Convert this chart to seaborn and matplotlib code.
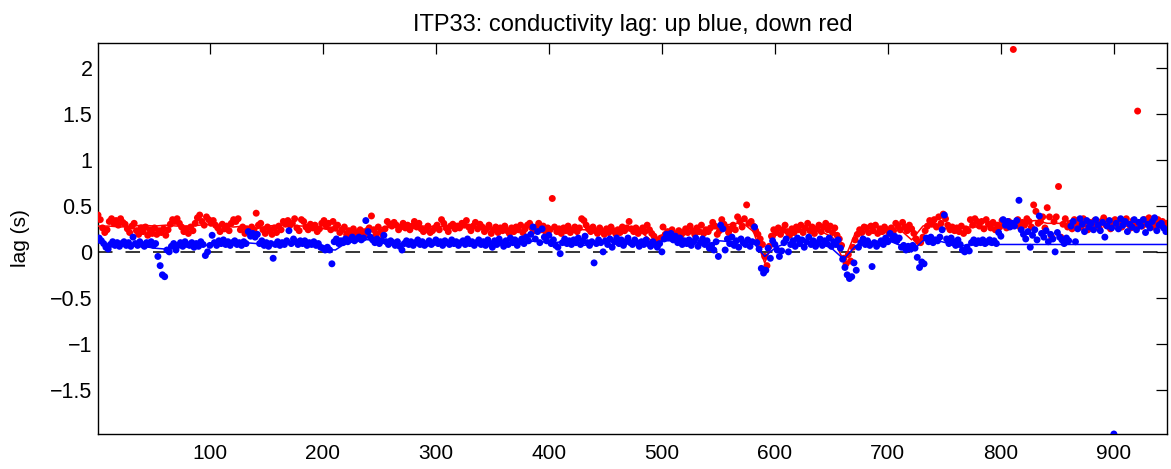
import numpy as np
import pandas as pd
import matplotlib
matplotlib.use("Agg")
import matplotlib.pyplot as plt
import seaborn as sns

# ---------------- data ----------------
# down-going profiles (red dots), profiles 1,3,5,...,947
red_profile = list(range(1, 948, 2))
red_lag = [
    0.40, 0.35, 0.26, 0.21, 0.24, 0.33, 0.36, 0.31, 0.34, 0.29,
    0.36, 0.32, 0.30, 0.25, 0.21, 0.28, 0.31, 0.23, 0.19, 0.26,
    0.22, 0.27, 0.18, 0.24, 0.20, 0.26, 0.19, 0.23, 0.21, 0.25,
    0.18, 0.24, 0.30, 0.35, 0.33, 0.36, 0.31, 0.27, 0.22, 0.25,
    0.20, 0.27, 0.23, 0.31, 0.37, 0.40, 0.33, 0.29, 0.38, 0.35,
    0.31, 0.34, 0.29, 0.26, 0.22, 0.30, 0.25, 0.28, 0.23, 0.31,
    0.35, 0.33, 0.36, 0.24, 0.27, 0.20, 0.25, 0.22, 0.27, 0.24,
    0.42, 0.29, 0.31, 0.24, 0.20, 0.27, 0.23, 0.19, 0.26, 0.21,
    0.28, 0.24, 0.33, 0.30, 0.34, 0.29, 0.31, 0.36, 0.26, 0.23,
    0.35, 0.33, 0.27, 0.24, 0.30, 0.26, 0.29, 0.22, 0.25, 0.31,
    0.34, 0.28, 0.31, 0.24, 0.33, 0.26, 0.29, 0.21, 0.24, 0.27,
    0.19, 0.23, 0.18, 0.25, 0.21, 0.20, 0.24, 0.22, 0.19, 0.23,
    0.26, 0.39, 0.24, 0.19, 0.27, 0.22, 0.18, 0.25, 0.33, 0.30,
    0.28, 0.32, 0.29, 0.24, 0.27, 0.31, 0.26, 0.29, 0.24, 0.28,
    0.33, 0.27, 0.31, 0.25, 0.22, 0.24, 0.28, 0.21, 0.23, 0.26,
    0.29, 0.24, 0.35, 0.31, 0.26, 0.22, 0.28, 0.30, 0.25, 0.28,
    0.26, 0.31, 0.29, 0.34, 0.27, 0.23, 0.28, 0.32, 0.25, 0.30,
    0.27, 0.22, 0.25, 0.29, 0.20, 0.24, 0.27, 0.21, 0.26, 0.23,
    0.28, 0.23, 0.20, 0.26, 0.22, 0.27, 0.24, 0.29, 0.21, 0.25,
    0.29, 0.31, 0.26, 0.23, 0.27, 0.31, 0.24, 0.28, 0.22, 0.26,
    0.24, 0.58, 0.27, 0.22, 0.25, 0.20, 0.26, 0.23, 0.28, 0.21,
    0.24, 0.27, 0.22, 0.26, 0.36, 0.34, 0.29, 0.25, 0.22, 0.27,
    0.23, 0.20, 0.26, 0.22, 0.19, 0.25, 0.21, 0.27, 0.23, 0.20,
    0.24, 0.21, 0.27, 0.23, 0.26, 0.33, 0.25, 0.22, 0.26, 0.20,
    0.23, 0.26, 0.22, 0.29, 0.24, 0.20, 0.17, 0.13, 0.11, 0.15,
    0.27, 0.19, 0.22, 0.16, 0.24, 0.20, 0.14, 0.23, 0.18, 0.21,
    0.25, 0.21, 0.28, 0.23, 0.19, 0.26, 0.22, 0.29, 0.20, 0.24,
    0.22, 0.26, 0.32, 0.28, 0.19, 0.23, 0.35, 0.30, 0.26, 0.21,
    0.25, 0.29, 0.24, 0.38, 0.33, 0.27, 0.36, 0.51, 0.31, 0.33,
    0.28, 0.23, 0.19, 0.14, 0.08, -0.05, -0.15, 0.06, 0.17, 0.24,
    0.21, 0.26, 0.19, 0.24, 0.29, 0.22, 0.18, 0.25, 0.21, 0.27,
    0.24, 0.29, 0.21, 0.26, 0.31, 0.23, 0.27, 0.20, 0.25, 0.29,
    0.22, 0.27, 0.31, 0.24, 0.28, 0.21, 0.26, 0.18, 0.14, 0.07,
    -0.07, -0.13, -0.03, -0.10, 0.05, 0.13, 0.19, 0.24, 0.21, 0.27,
    0.26, 0.21, 0.28, 0.23, 0.29, 0.20, 0.25, 0.22, 0.27, 0.24,
    0.20, 0.26, 0.23, 0.31, 0.28, 0.24, 0.32, 0.27, 0.23, 0.29,
    0.25, 0.20, 0.14, 0.11, 0.10, 0.16, 0.23, 0.28, 0.34, 0.30,
    0.35, 0.27, 0.38, 0.31, 0.41, 0.36, 0.29, 0.24, 0.27, 0.23,
    0.26, 0.22, 0.28, 0.20, 0.25, 0.23, 0.35, 0.29, 0.36, 0.33,
    0.28, 0.33, 0.25, 0.35, 0.30, 0.26, 0.32, 0.24, 0.29, 0.27,
    0.34, 0.30, 0.26, 0.33, 0.28, 2.20, 0.31, 0.35, 0.27, 0.32,
    0.29, 0.36, 0.33, 0.27, 0.51, 0.44, 0.31, 0.33, 0.38, 0.26,
    0.48, 0.38, 0.16, 0.33, 0.38, 0.71, 0.16, 0.30, 0.36, 0.27,
    0.31, 0.25, 0.35, 0.29, 0.33, 0.27, 0.36, 0.30, 0.24, 0.32,
    0.28, 0.34, 0.30, 0.26, 0.33, 0.37, 0.29, 0.32, 0.25, 0.31,
    0.35, 0.29, 0.33, 0.27, 0.31, 0.36, 0.30, 0.26, 0.34, 0.29,
    1.53, 0.32, 0.28, 0.35, 0.30, 0.37, 0.33, 0.27, 0.31, 0.35,
    0.29, 0.33, 0.27, 0.31,
]

# up-going profiles (blue dots), profiles 2,4,6,...,946
blue_profile = list(range(2, 947, 2))
blue_lag = [
    0.15, 0.12, 0.09, 0.05, 0.03, 0.08, 0.11, 0.07, 0.10, 0.06,
    0.09, 0.11, 0.07, 0.10, 0.06, 0.16, 0.09, 0.07, 0.11, 0.08,
    0.06, 0.10, 0.08, 0.11, 0.07, 0.09, -0.05, -0.15, -0.25, -0.27,
    0.02, 0.00, 0.06, 0.09, 0.02, 0.07, 0.10, 0.06, 0.11, 0.08,
    0.07, 0.10, 0.05, 0.09, 0.06, 0.11, 0.08, -0.04, 0.00, 0.07,
    0.18, 0.10, 0.07, 0.12, 0.09, 0.13, 0.08, 0.11, 0.07, 0.10,
    0.12, 0.08, 0.10, 0.07, 0.11, 0.09, 0.22, 0.17, 0.20, 0.16,
    0.19, 0.09, 0.12, 0.07, 0.10, 0.06, 0.09, -0.07, 0.08, 0.11,
    0.07, 0.10, 0.08, 0.12, 0.23, 0.09, 0.14, 0.11, 0.08, 0.12,
    0.09, 0.12, 0.07, 0.10, 0.08, 0.11, 0.07, 0.09, 0.05, 0.04,
    0.02, 0.05, 0.02, -0.13, 0.11, 0.14, 0.09, 0.12, 0.10, 0.14,
    0.11, 0.13, 0.16, 0.12, 0.14, 0.16, 0.13, 0.15, 0.34, 0.22,
    0.16, 0.13, 0.10, 0.14, 0.09, 0.12, 0.18, 0.11, 0.08, 0.12,
    0.10, 0.07, 0.11, 0.06, 0.02, 0.09, 0.12, 0.08, 0.11, 0.07,
    0.10, 0.13, 0.08, 0.11, 0.07, 0.09, 0.12, 0.08, 0.10, 0.13,
    0.09, 0.11, 0.07, 0.12, 0.10, 0.08, 0.13, 0.09, 0.11, 0.07,
    0.10, 0.12, 0.08, 0.14, 0.09, 0.11, 0.07, 0.10, 0.13, 0.08,
    0.11, 0.07, 0.13, 0.09, 0.05, 0.12, 0.08, 0.14, 0.10, 0.06,
    0.12, 0.08, 0.15, 0.10, 0.13, 0.07, 0.11, 0.14, 0.09, 0.16,
    0.12, 0.19, 0.27, 0.14, 0.22, 0.10, 0.25, 0.16, 0.12, 0.18,
    0.09, 0.13, 0.07, 0.05, -0.02, 0.10, 0.14, 0.09, 0.12, 0.08,
    0.13, 0.10, 0.15, 0.08, 0.12, 0.17, 0.10, 0.07, 0.11, -0.12,
    0.09, 0.13, 0.10, 0.00, 0.12, 0.08, 0.14, 0.05, 0.11, 0.15,
    0.09, 0.13, 0.07, 0.11, 0.15, 0.10, 0.08, 0.13, 0.10, 0.06,
    0.11, 0.08, 0.13, 0.09, 0.06, 0.11, 0.08, 0.05, 0.09, 0.00,
    0.14, 0.19, 0.16, 0.20, 0.13, 0.17, 0.10, 0.15, 0.08, 0.12,
    0.09, 0.13, 0.07, 0.11, 0.15, 0.06, 0.10, 0.14, 0.08, 0.12,
    0.04, 0.07, 0.02, 0.11, -0.05, 0.29, 0.25, 0.02, 0.14, 0.09,
    0.16, 0.07, 0.12, 0.05, 0.14, 0.10, 0.08, 0.13, 0.06, 0.11,
    0.27, 0.10, 0.03, -0.18, -0.23, -0.20, 0.04, -0.07, 0.12, 0.08,
    0.02, -0.05, 0.01, 0.10, 0.14, 0.00, 0.08, 0.12, 0.06, 0.15,
    0.09, 0.13, 0.05, 0.11, 0.16, 0.08, 0.12, 0.06, 0.10, 0.14,
    0.07, 0.12, 0.09, 0.15, 0.06, 0.11, 0.08, 0.13, 0.04, -0.08,
    -0.17, -0.25, -0.29, -0.27, -0.12, -0.20, 0.05, 0.10, 0.14, 0.08,
    0.12, 0.07, -0.16, 0.10, 0.06, 0.09, 0.12, 0.08, 0.15, 0.11,
    0.20, 0.14, 0.17, 0.12, 0.15, 0.05, 0.07, 0.02, 0.06, 0.03,
    0.07, 0.04, -0.06, -0.17, -0.11, -0.13, 0.15, 0.11, 0.16, 0.10,
    0.13, 0.12, 0.16, 0.24, 0.40, 0.14, 0.09, 0.15, 0.11, 0.07,
    0.13, 0.08, 0.02, 0.00, 0.05, 0.01, 0.10, 0.13, 0.09, 0.12,
    0.10, 0.13, 0.09, 0.11, 0.13, 0.10, 0.12, 0.09, 0.21, 0.17,
    0.35, 0.29, 0.33, 0.27, 0.31, 0.28, 0.34, 0.56, 0.24, 0.19,
    0.14, 0.22, 0.05, 0.18, 0.24, 0.13, 0.39, 0.20, 0.16, 0.23,
    0.11, 0.19, 0.14, 0.00, 0.21, 0.16, 0.13, 0.09, 0.15, 0.12,
    0.28, 0.33, 0.11, 0.25, 0.36, 0.30, 0.22, 0.34, 0.27, 0.31,
    0.24, 0.35, 0.29, 0.23, 0.32, 0.16, 0.28, 0.34, 0.26, -1.98,
    0.31, 0.25, 0.36, 0.29, 0.33, 0.22, 0.30, 0.27, 0.35, 0.24,
    0.32, 0.28, 0.35, 0.21, 0.30, 0.26, 0.33, 0.37, 0.23, 0.29,
    0.31, 0.26, 0.22,
]

# chosen (smoothed) lag curves, read every 10 profiles
line_profile = list(range(1, 942, 10)) + [947]
blue_line_lag = [
    0.10, 0.08, 0.07, 0.07, 0.06, 0.04, 0.03, 0.06, 0.07, 0.06,
    0.08, 0.09, 0.09, 0.10, 0.09, 0.07, 0.09, 0.09, 0.08, 0.07,
    0.03, 0.02, 0.10, 0.14, 0.13, 0.10, 0.08, 0.08, 0.09, 0.09,
    0.09, 0.09, 0.10, 0.09, 0.09, 0.09, 0.10, 0.10, 0.11, 0.12,
    0.09, 0.11, 0.10, 0.07, 0.10, 0.11, 0.11, 0.10, 0.09, 0.06,
    0.12, 0.12, 0.10, 0.10, 0.08, 0.12, 0.11, 0.12, 0.10, -0.05,
    0.05, 0.10, 0.11, 0.10, 0.09, 0.03, -0.08, 0.06, 0.11, 0.10,
    0.12, 0.07, 0.00, 0.12, 0.13, 0.10, 0.05, 0.08, 0.08, 0.08,
    0.08, 0.08, 0.08, 0.08, 0.08, 0.08, 0.08, 0.08, 0.08, 0.08,
    0.08, 0.08, 0.08, 0.08, 0.08, 0.08,
]
red_line_lag = [
    0.28, 0.28, 0.27, 0.28, 0.29, 0.28, 0.29, 0.28, 0.28, 0.29,
    0.30, 0.28, 0.27, 0.28, 0.25, 0.28, 0.29, 0.29, 0.28, 0.29,
    0.25, 0.23, 0.22, 0.22, 0.24, 0.26, 0.27, 0.28, 0.28, 0.28,
    0.27, 0.28, 0.28, 0.28, 0.25, 0.25, 0.25, 0.26, 0.27, 0.26,
    0.25, 0.25, 0.25, 0.24, 0.24, 0.23, 0.23, 0.23, 0.22, 0.12,
    0.19, 0.20, 0.22, 0.23, 0.24, 0.28, 0.30, 0.32, 0.22, -0.12,
    0.19, 0.22, 0.24, 0.24, 0.22, 0.16, -0.10, 0.20, 0.22, 0.22,
    0.23, 0.24, 0.13, 0.28, 0.32, 0.25, 0.25, 0.27, 0.27, 0.28,
    0.29, 0.30, 0.33, 0.34, 0.31, 0.31, 0.31, 0.32, 0.31, 0.31,
    0.31, 0.31, 0.31, 0.32, 0.31, 0.30,
]

x_ticks = [100, 200, 300, 400, 500, 600, 700, 800, 900]
y_ticks = [-1.5, -1, -0.5, 0, 0.5, 1, 1.5, 2]
y_tick_labels = ["\u22121.5", "\u22121", "\u22120.5", "0", "0.5", "1", "1.5", "2"]
title_text = "ITP33: conductivity lag: up blue, down red"
y_label = "lag (s)"

# ---------------- plotting ----------------
sns.set_theme(style="white")
plt.rcParams["font.family"] = ["Liberation Sans", "DejaVu Sans"]
for key in ["text.color", "axes.labelcolor", "xtick.color", "ytick.color"]:
    plt.rcParams[key] = "black"

dpi = 100
fig = plt.figure(figsize=(1171 / dpi, 469 / dpi), dpi=dpi)
ax = fig.add_axes([98 / 1171, 1 - 434 / 469, (1167 - 98) / 1171, (434 - 43) / 469])

red_df = pd.DataFrame({"profile": red_profile, "lag": red_lag})
blue_df = pd.DataFrame({"profile": blue_profile, "lag": blue_lag})
line_df = pd.DataFrame({"profile": line_profile, "blue": blue_line_lag, "red": red_line_lag})

sns.scatterplot(data=red_df, x="profile", y="lag", color=(1, 0, 0), s=25,
                edgecolor="none", linewidth=0, ax=ax, zorder=3)
sns.lineplot(data=line_df, x="profile", y="red", color=(1, 0, 0), linewidth=1.1,
             ax=ax, zorder=3.5, estimator=None, sort=False)
sns.scatterplot(data=blue_df, x="profile", y="lag", color=(0, 0, 1), s=25,
                edgecolor="none", linewidth=0, ax=ax, zorder=4)
sns.lineplot(data=line_df, x="profile", y="blue", color=(0, 0, 1), linewidth=1.1,
             ax=ax, zorder=5, estimator=None, sort=False)

ax.axhline(0, color="black", linewidth=1.1, dashes=(9.5, 8.5), zorder=2)

ax.set_xlim(1, 947)
ax.set_ylim(-1.98, 2.27)
ax.set_xticks(x_ticks)
ax.set_xticklabels([str(t) for t in x_ticks])
ax.set_yticks(y_ticks)
ax.set_yticklabels(y_tick_labels)
ax.tick_params(direction="in", length=8, width=0.9, top=True, right=True,
               colors="black")
ax.tick_params(axis="x", pad=7, labelsize=15)
ax.tick_params(axis="y", pad=4, labelsize=15.5)
for side in ["left", "right", "top", "bottom"]:
    ax.spines[side].set_visible(True)
    ax.spines[side].set_color("black")
    ax.spines[side].set_linewidth(1.0)

ax.set_xlabel("")
ax.set_ylabel(y_label, fontsize=15, labelpad=14)
ax.set_title(title_text, fontsize=17, pad=9)
ax.grid(False)

fig.savefig("out.png", dpi=dpi, facecolor="white")
